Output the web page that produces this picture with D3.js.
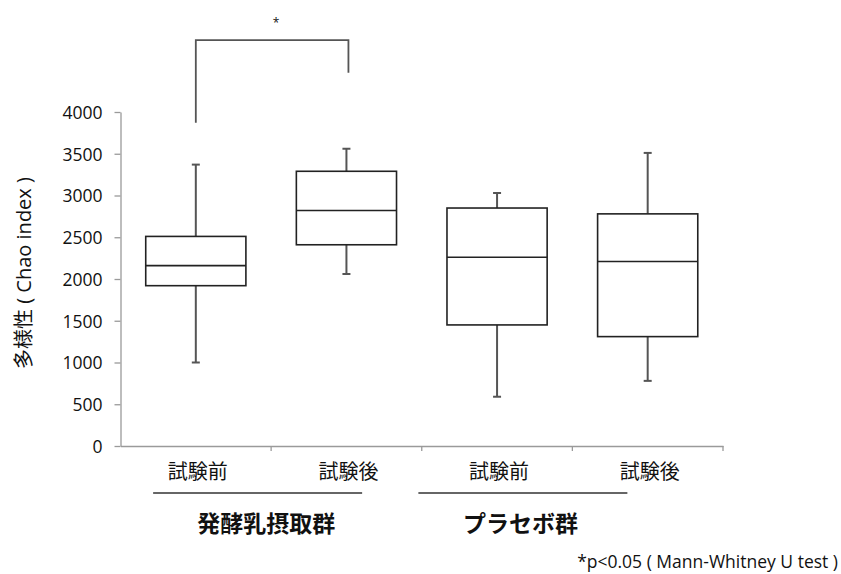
<!DOCTYPE html>
<html>
<head>
<meta charset="utf-8">
<script src="https://cdn.jsdelivr.net/npm/d3@7"></script>
<style>
  html, body { margin: 0; padding: 0; background: #fff; }
  svg { display: block; }
  text { font-family: "Open Sans", "Noto Sans CJK JP", sans-serif; fill: #111; }
  .jp { font-family: "Noto Sans CJK JP", sans-serif; }
</style>
</head>
<body>
<svg id="chart" width="841" height="574"></svg>
<script>
// Chao index distribution per group and timepoint
const groups = ["発酵乳摂取群", "プラセボ群"];
const timepoints = ["試験前", "試験後"];
const boxKeys = ["fer-pre", "fer-post", "pla-pre", "pla-post"];
const boxLabels = ["試験前", "試験後", "試験前", "試験後"];
const mins    = [1000, 2060,  590,  780];
const q1s     = [1920, 2410, 1450, 1310];
const medians = [2160, 2820, 2260, 2210];
const q3s     = [2510, 3290, 2850, 2780];
const maxs    = [3370, 3560, 3030, 3510];
const yTicks  = [0, 500, 1000, 1500, 2000, 2500, 3000, 3500, 4000];
// significance bracket between the two fermented-milk boxes
const bracketPair = ["fer-pre", "fer-post"];
const bracketLeft = 3870, bracketRight = 4470, bracketTop = 4860;
const footnote = "*p<0.05 ( Mann-Whitney U test )";

const boxes = boxKeys.map((k, i) => ({
  key: k, label: boxLabels[i],
  min: mins[i], q1: q1s[i], med: medians[i], q3: q3s[i], max: maxs[i]
}));

const svg = d3.select("#chart");
const plotLeft = 120.5, plotRight = 723, plotTop = 112, plotBottom = 446;

const x = d3.scaleBand().domain(boxKeys).range([plotLeft, plotRight]).paddingInner(0).paddingOuter(0);
const y = d3.scaleLinear().domain([0, 4000]).range([plotBottom, plotTop]);
const boxW = x.bandwidth() * 0.665;

// axes
const yAxis = svg.append("g")
  .attr("transform", `translate(${plotLeft},0)`)
  .call(d3.axisLeft(y).tickValues(yTicks).tickFormat(d3.format("d"))
    .tickSize(6).tickPadding(12).tickSizeOuter(0));
yAxis.select(".domain").attr("stroke", "#9a9a9a").attr("stroke-width", 1.3);
yAxis.selectAll(".tick line").attr("stroke", "#9a9a9a").attr("stroke-width", 1.3);
yAxis.selectAll(".tick text").attr("font-size", 17.5).attr("fill", "#111")
  .attr("dy", "0.36em")
  .style("font-family", "'Open Sans', sans-serif");

const xAxis = svg.append("g")
  .attr("transform", `translate(0,${plotBottom})`)
  .call(d3.axisBottom(x).tickSize(0).tickFormat(""));
xAxis.select(".domain").attr("stroke", "#9a9a9a").attr("stroke-width", 1.3);
// boundary ticks between categories
svg.append("g").selectAll("line")
  .data(boxKeys.slice(1).map(k => x(k)).concat([plotRight]))
  .join("line")
  .attr("x1", d => d).attr("x2", d => d)
  .attr("y1", plotBottom).attr("y2", plotBottom + 5)
  .attr("stroke", "#9a9a9a").attr("stroke-width", 1.3);

// box plots
const g = svg.append("g").selectAll("g").data(boxes).join("g");
const cx = d => x(d.key) + x.bandwidth() / 2;

// whiskers
g.append("line")
  .attr("x1", cx).attr("x2", cx)
  .attr("y1", d => y(d.q3)).attr("y2", d => y(d.max))
  .attr("stroke", "#555").attr("stroke-width", 2);
g.append("line")
  .attr("x1", cx).attr("x2", cx)
  .attr("y1", d => y(d.q1)).attr("y2", d => y(d.min))
  .attr("stroke", "#555").attr("stroke-width", 2);
// caps
["max", "min"].forEach(f => {
  g.append("line")
    .attr("x1", d => cx(d) - 4).attr("x2", d => cx(d) + 4)
    .attr("y1", d => y(d[f])).attr("y2", d => y(d[f]))
    .attr("stroke", "#555").attr("stroke-width", 2);
});
// boxes
g.append("rect")
  .attr("x", d => cx(d) - boxW / 2)
  .attr("width", boxW)
  .attr("y", d => y(d.q3))
  .attr("height", d => y(d.q1) - y(d.q3))
  .attr("fill", "#fff").attr("stroke", "#222").attr("stroke-width", 1.6);
// medians
g.append("line")
  .attr("x1", d => cx(d) - boxW / 2).attr("x2", d => cx(d) + boxW / 2)
  .attr("y1", d => y(d.med)).attr("y2", d => y(d.med))
  .attr("stroke", "#222").attr("stroke-width", 1.6);

// significance bracket
const bx1 = x(bracketPair[0]) + x.bandwidth() / 2;
const bx2 = x(bracketPair[1]) + x.bandwidth() / 2 + 2;
svg.append("path")
  .attr("d", `M${bx1},${y(bracketLeft)} V${y(bracketTop)} H${bx2} V${y(bracketRight)}`)
  .attr("fill", "none").attr("stroke", "#555").attr("stroke-width", 1.8);
svg.append("text")
  .attr("x", (bx1 + bx2) / 2 + 4).attr("y", 27)
  .attr("text-anchor", "middle").attr("font-size", 12).attr("fill", "#555")
  .text("*");

// category labels
svg.append("g").selectAll("text").data(boxes).join("text")
  .attr("class", "jp")
  .attr("x", d => cx(d) + 2).attr("y", 479)
  .attr("text-anchor", "middle").attr("font-size", 20)
  .text(d => d.label);

// group underline and group labels
const underlineShift = [-13.5, -49.5];
const labelShift = [-5, -52];
groups.forEach((name, gi) => {
  const k1 = boxKeys[gi * 2], k2 = boxKeys[gi * 2 + 1];
  const mid = (x(k1) + x(k2) + x.bandwidth()) / 2;
  const uc = mid + underlineShift[gi];
  svg.append("line")
    .attr("x1", uc - 104.5).attr("x2", uc + 104.5).attr("y1", 493).attr("y2", 493)
    .attr("stroke", "#333").attr("stroke-width", 1.5);
  svg.append("text")
    .attr("class", "jp")
    .attr("x", mid + labelShift[gi]).attr("y", 532)
    .attr("text-anchor", "middle").attr("font-size", 23).attr("font-weight", "bold")
    .text(name);
});

// y-axis title
svg.append("text")
  .attr("transform", "translate(31,273) rotate(-90)")
  .attr("text-anchor", "middle").attr("font-size", 20)
  .html('<tspan class="jp">多様性</tspan><tspan> ( Chao index )</tspan>');

// footnote
svg.append("text")
  .attr("x", 838).attr("y", 568)
  .attr("text-anchor", "end").attr("font-size", 17.5)
  .text(footnote);
</script>
</body>
</html>
